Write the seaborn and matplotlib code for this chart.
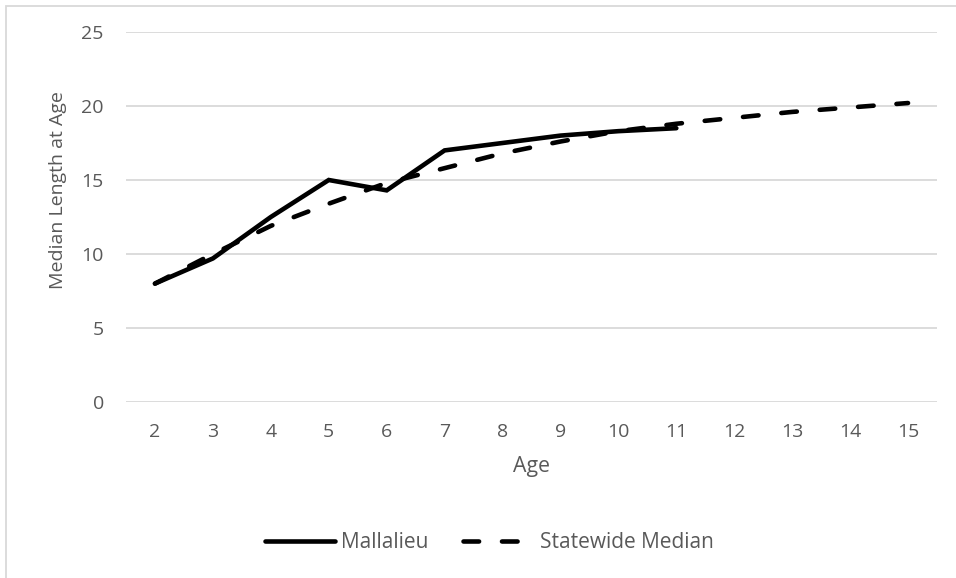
import matplotlib
matplotlib.use("Agg")
import matplotlib.pyplot as plt
from matplotlib.patches import Rectangle
from matplotlib.lines import Line2D
import seaborn as sns
import pandas as pd

ages = list(range(2, 16))
mallalieu_ages = list(range(2, 12))
mallalieu = [8.0, 9.7, 12.5, 15.0, 14.3, 17.0, 17.5, 18.0, 18.3, 18.5]
statewide = [8.0, 10.0, 11.9, 13.4, 14.8, 15.8, 16.8, 17.6, 18.3, 18.8,
             19.2, 19.6, 19.9, 20.2]
y_ticks = [0, 5, 10, 15, 20, 25]

df = pd.concat([
    pd.DataFrame({"Age": mallalieu_ages, "Length": mallalieu, "Series": "Mallalieu"}),
    pd.DataFrame({"Age": ages, "Length": statewide, "Series": "Statewide Median"}),
])

sns.set_theme(style="white")
plt.rcParams["font.family"] = ["Open Sans", "DejaVu Sans"]
text_color = "#595959"
grid_color = "#d9d9d9"

W, H = 956, 578
fig = plt.figure(figsize=(W / 100, H / 100), dpi=100)
ax = fig.add_axes([126 / W, 1 - 402 / H, (937 - 126) / W, (402 - 32) / H])

lw = 3.3
dash = (3.4, 5.0)
sns.lineplot(
    data=df, x="Age", y="Length", style="Series",
    dashes={"Mallalieu": "", "Statewide Median": dash},
    color="black", linewidth=lw, legend=False, ax=ax,
    estimator=None, sort=False,
)
for ln in ax.get_lines():
    ln.set_solid_capstyle("round")
    ln.set_dash_capstyle("round")
    ln.set_solid_joinstyle("miter")

ax.set_xlim(1.5, 15.5)
ax.set_ylim(0, 25)
ax.set_xticks(ages)
ax.set_xticklabels([str(a) for a in ages])
ax.set_yticks(y_ticks)
ax.yaxis.grid(True, color=grid_color, linewidth=1.3)
ax.set_axisbelow(True)
for s in ax.spines.values():
    s.set_visible(False)
ax.tick_params(axis="both", length=0, labelsize=14, colors=text_color)
ax.tick_params(axis="x", pad=15)
ax.tick_params(axis="y", pad=16)

ax.set_xlabel("Age", fontsize=15.3, color=text_color, labelpad=11)
ax.set_ylabel("Median Length at Age", fontsize=14, color=text_color)
ax.yaxis.set_label_coords((67 - 126) / 811, (402 - 190) / 370)

handles = [
    Line2D([], [], color="black", linewidth=lw, solid_capstyle="round"),
    Line2D([], [], color="black", linewidth=lw, dashes=dash, dash_capstyle="round"),
]
fig.legend(handles, ["Mallalieu", "Statewide Median"], loc="center",
           bbox_to_anchor=(489 / W, 1 - 543 / H), ncol=2, frameon=False,
           fontsize=15, labelcolor=text_color, handlelength=3.4,
           handletextpad=0.25, columnspacing=1.7)

fig.patches.append(Rectangle((5.5 / W, -0.01), 1.2, 1 - 5.5 / H + 0.01,
                             transform=fig.transFigure, fill=False,
                             edgecolor=grid_color, linewidth=1.3))

fig.savefig("out.png", dpi=100, facecolor="white")
